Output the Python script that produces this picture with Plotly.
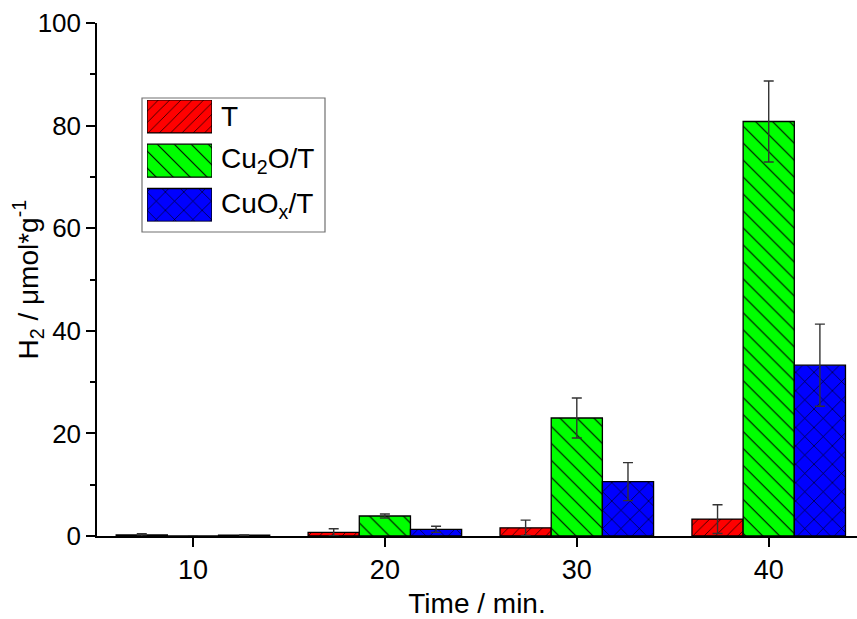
import plotly.graph_objects as go

# Sampling times (min)
times = [10, 20, 30, 40]

# H2 evolution (µmol/g) and standard deviations per photocatalyst
names = ["T", "Cu<sub>2</sub>O/T", "CuO<sub>x</sub>/T"]
h2_T = [0.2, 0.7, 1.6, 3.3]
err_T = [0.25, 0.7, 1.5, 2.8]
h2_Cu2O = [0.0, 3.9, 23.0, 80.8]
err_Cu2O = [0.0, 0.4, 3.9, 7.9]
h2_CuOx = [0.15, 1.3, 10.6, 33.3]
err_CuOx = [0.05, 0.6, 3.7, 8.0]

y_ticks = [0, 20, 40, 60, 80, 100]

values = [h2_T, h2_Cu2O, h2_CuOx]
errors = [err_T, err_Cu2O, err_CuOx]
colors = ["#FF0000", "#00FF00", "#0000FF"]
hatches = ["/", "\\", "x"]
hatch_sizes = [8, 12, 13]
SOLIDITY = 0.09

FONT = "Liberation Sans, Arial, sans-serif"
W, H = 857, 619
L, R, T, B = 97, 0, 23, 83
PW, PH = W - L - R, H - T - B


def px_x(p):
    return (p - L) / PW


def px_y(p):
    return (H - B - p) / PH


def bar_marker(c, h, s):
    return dict(
        color=c,
        line=dict(color="black", width=1.3),
        pattern=dict(shape=h, size=s, solidity=SOLIDITY,
                     fgcolor="black", fgopacity=1, bgcolor=c,
                     fillmode="replace"),
    )


fig = go.Figure()

for name, v, e, c, h, s in zip(names, values, errors, colors, hatches, hatch_sizes):
    fig.add_trace(go.Bar(
        x=times, y=v, name=name, showlegend=False,
        marker=bar_marker(c, h, s),
        error_y=dict(type="data", array=e, visible=True,
                     color="#333333", thickness=1.4, width=5),
    ))

# Legend: hatched swatches drawn on a small inset axis
for r, (name, c, h, s) in enumerate(zip(names, colors, hatches, hatch_sizes)):
    fig.add_trace(go.Bar(
        x=[1], y=[r], orientation="h", base=0, width=0.745, offset=-0.3725,
        xaxis="x2", yaxis="y2", showlegend=False, hoverinfo="skip",
        marker=bar_marker(c, h, s),
    ))
    fig.add_annotation(x=1, y=r, xref="x2", yref="y2", text=name,
                       showarrow=False, xanchor="left", yanchor="middle",
                       xshift=7, font=dict(size=28, color="black", family=FONT))

fig.add_shape(type="rect", xref="paper", yref="paper",
              x0=px_x(142), x1=px_x(325), y0=px_y(232), y1=px_y(98),
              line=dict(color="#707070", width=1.2), fillcolor="rgba(0,0,0,0)",
              layer="below")

# Y-axis title, placed as a rotated annotation
fig.add_annotation(x=px_x(28), y=0.5, xref="paper", yref="paper",
                   text="H<sub>2</sub> / μmol*g<sup>-1</sup>", textangle=-90,
                   showarrow=False, xanchor="center", yanchor="middle",
                   font=dict(size=28, color="black", family=FONT))

fig.update_layout(
    width=W, height=H,
    margin=dict(l=L, r=R, t=T, b=B),
    paper_bgcolor="white", plot_bgcolor="white",
    font=dict(family=FONT, color="black"),
    barmode="group", bargap=0.2, bargroupgap=0,
    xaxis=dict(
        range=[5, 44.6], tickvals=times, ticktext=[str(t) for t in times],
        ticks="outside", ticklen=9, tickwidth=1.5, tickcolor="black",
        showline=True, linewidth=1.5, linecolor="black",
        showgrid=False, zeroline=False,
        tickfont=dict(size=27),
        title=dict(text="Time / min.", font=dict(size=28), standoff=9),
    ),
    yaxis=dict(
        range=[0, 100], tickvals=y_ticks,
        ticks="outside", ticklen=9, tickwidth=1.5, tickcolor="black",
        minor=dict(dtick=10, ticks="outside", ticklen=5, tickwidth=1.5,
                   tickcolor="black"),
        showline=True, linewidth=1.5, linecolor="black",
        showgrid=False, zeroline=False,
        tickfont=dict(size=26),
    ),
    xaxis2=dict(domain=[px_x(147), px_x(212)], anchor="y2", range=[0, 1],
                visible=False, fixedrange=True),
    yaxis2=dict(domain=[px_y(221.4), px_y(100)], anchor="x2",
                range=[2.37, -0.37], visible=False, fixedrange=True),
)

fig.write_html("out.html")
